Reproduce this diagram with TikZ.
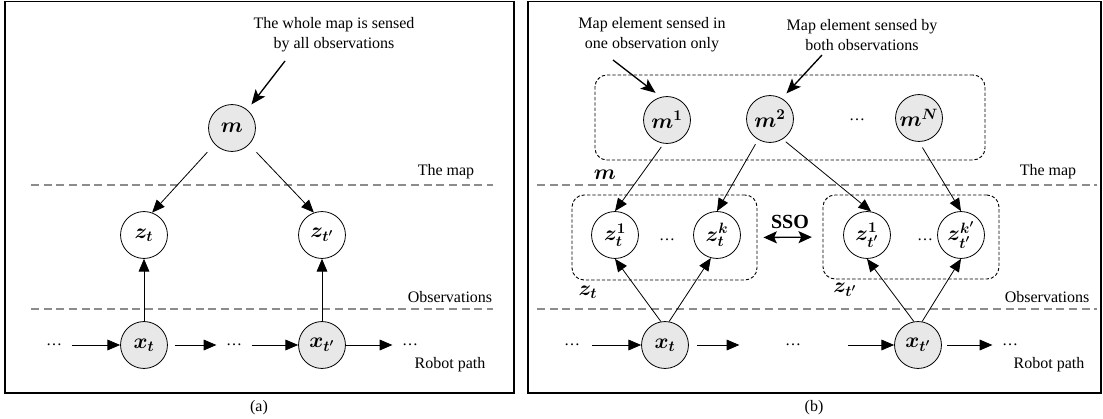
\RequirePackage{fix-cm}
\documentclass[tikz,border=0pt]{standalone}
\usepackage{fontspec}
\setmainfont{Liberation Serif}
\usepackage{amsmath,bm}
\usetikzlibrary{arrows.meta}
\definecolor{dline}{RGB}{140,140,140}
\definecolor{nfill}{RGB}{232,232,232}
\begin{document}
\begin{tikzpicture}[x=0.75pt,y=-0.75pt,
  var/.style={circle,draw,line width=0.6pt,minimum size=35.2pt,inner sep=0pt,font=\fontsize{16}{18}\selectfont},
  obsvar/.style={var,fill=nfill},
  lbl/.style={font=\fontsize{12}{14}\selectfont,inner sep=0pt},
  dotsnode/.style={font=\fontsize{12}{14}\selectfont,inner ysep=0pt,inner xsep=7pt},
  notetext/.style={font=\fontsize{12}{15}\selectfont,align=center,inner sep=0pt},
  mathlbl/.style={font=\fontsize{16}{18}\selectfont,inner sep=0pt},
  sepline/.style={dline,line width=0.9pt,dash pattern=on 6pt off 3.5pt},
  grp/.style={draw,line width=0.7pt,dash pattern=on 2.5pt off 1.5pt,rounded corners=9pt,inner sep=0pt},
  conn/.style={line width=0.6pt,-{Triangle[length=9.5pt,width=8pt]}},
  ann/.style={line width=1pt,-{Stealth[length=11pt,width=9pt,inset=2.5pt]}},
  dbl/.style={line width=1pt,{Stealth[length=10pt,width=9pt,inset=2pt]}-{Stealth[length=10pt,width=9pt,inset=2pt]}},
  panel/.style={draw,line width=1pt}]
\useasboundingbox (0,0) rectangle (1103,418);
% panels
\draw[panel] (5,1.5) rectangle (514,393);
\draw[panel] (528,1.5) rectangle (1101,393);
\node[lbl] (capa) at (259,408) {(a)};
\node[lbl] (capb) at (814,408) {(b)};

% ---------- panel (a) ----------
\draw[sepline] (31,185) -- (493,185);
\draw[sepline] (31,309) -- (493,309);
\node[lbl] (mapa) at (446,172) {The map};
\node[lbl] (obsa) at (450,297) {Observations};
\node[lbl] (robota) at (450,365) {Robot path};
\node[notetext] (notea) at (334,35) {The whole map is sensed\\by all observations};

\node[obsvar] (m) at (232,128) {$\bm{m}$};
\node[var] (zt) at (144,235) {$\bm{z_t}$};
\node[var] (ztp) at (322,235) {$\bm{z_{t'}}$};
\node[obsvar] (xt) at (144,345) {$\bm{x_t}$};
\node[obsvar] (xtp) at (322,345) {$\bm{x_{t'}}$};
\node[dotsnode] (d1) at (54,345) {\dots};
\node[dotsnode] (d2) at (234,345) {\dots};
\node[dotsnode] (d3) at (410,345) {\dots};

\coordinate (a1) at (285,61);
\draw[ann,shorten >=5pt] (a1) -- (m.50);
\draw[conn,shorten <=8pt] (m.223) -- (zt.70);
\draw[conn,shorten <=8pt] (m.-44) -- (ztp.110);
\draw[conn] (xt) -- (zt);
\draw[conn] (xtp) -- (ztp);
\draw[conn] (d1) -- (xt);
\draw[conn,shorten <=5pt] (xt) -- (d2);
\draw[conn] (d2) -- (xtp);
\draw[conn] (xtp) -- (d3);

% ---------- panel (b) ----------
\draw[sepline] (537,185) -- (1097,185);
\draw[sepline] (537,309) -- (1097,309);
\node[lbl] (mapb) at (1048,172) {The map};
\node[lbl] (obsb) at (1047,297) {Observations};
\node[lbl] (robotb) at (1049,365) {Robot path};
\node[notetext] (noteb1) at (652,35) {Map element sensed in\\one observation only};
\node[notetext] (noteb2) at (862,35) {Map element sensed by\\both observations};

\node[grp,minimum width=292.5pt,minimum height=63.75pt] (mbox) at (790,117.5) {};
\node[grp,minimum width=138.75pt,minimum height=63.75pt] (ztbox) at (664.5,237.5) {};
\node[grp,minimum width=132pt,minimum height=63pt] (ztpbox) at (911,237) {};
\node[mathlbl] (mlbl) at (605,175) {$\bm{m}$};
\node[mathlbl] (ztlbl) at (588,292) {$\bm{z_t}$};
\node[mathlbl] (ztplbl) at (845,290) {$\bm{z_{t'}}$};

\node[obsvar] (m1) at (667,120) {$\bm{m^1}$};
\node[obsvar] (m2) at (770,119) {$\bm{m^2}$};
\node[obsvar] (mN) at (919,118) {$\bm{m^N}$};
\node[dotsnode] (dm) at (857,120) {\dots};

\node[var] (zt1) at (615,235) {$\bm{z_t^1}$};
\node[var] (ztk) at (717,235) {$\bm{z_t^k}$};
\node[dotsnode] (dz1) at (667,240) {\dots};
\node[var] (ztp1) at (867,235) {$\bm{z_{t'}^1}$};
\node[var] (ztpk) at (961,235) {$\bm{z_{t'}^{k'}}$};
\node[dotsnode] (dz2) at (925,240) {\dots};

\node[font=\fontsize{15}{17}\selectfont\bfseries,inner sep=0pt] (sso) at (790,222) {SSO};
\draw[dbl,shorten <=4.5pt,shorten >=8pt] (ztbox.east) -- (ztpbox.west);

\node[obsvar] (bxt) at (665,345) {$\bm{x_t}$};
\node[obsvar] (bxtp) at (918,345) {$\bm{x_{t'}}$};
\node[dotsnode] (d4) at (572,345) {\dots};
\node[dotsnode] (d5) at (793,345) {\dots};
\node[dotsnode] (d6) at (1010,345) {\dots};

\coordinate (b1) at (613,60);
\coordinate (b2) at (822,55);
\draw[ann,shorten >=5pt] (b1) -- (m1.105);
\draw[ann,shorten >=5pt] (b2) -- (m2.60);

\draw[conn,shorten <=3pt] (m1.-98) -- (zt1.north);
\draw[conn,shorten <=4pt] (m2.-120) -- (ztk.north);
\draw[conn,shorten <=3pt] (m2.-58) -- (ztp1.80);
\draw[conn,shorten <=5pt] (mN.south) -- (ztpk.north);

\draw[conn] (bxt.100) -- (zt1.south);
\draw[conn] (bxt.80) -- (ztk.255);
\draw[conn] (bxtp.100) -- (ztp1.south);
\draw[conn] (bxtp.80) -- (ztpk.south);

\draw[conn,shorten <=2pt] (d4) -- (bxt);
\draw[conn,shorten <=6pt,shorten >=27pt] (bxt) -- (d5);
\draw[conn,shorten <=28pt] (d5) -- (bxtp);
\draw[conn,shorten <=4pt] (bxtp) -- (d6);
\end{tikzpicture}
\end{document}
